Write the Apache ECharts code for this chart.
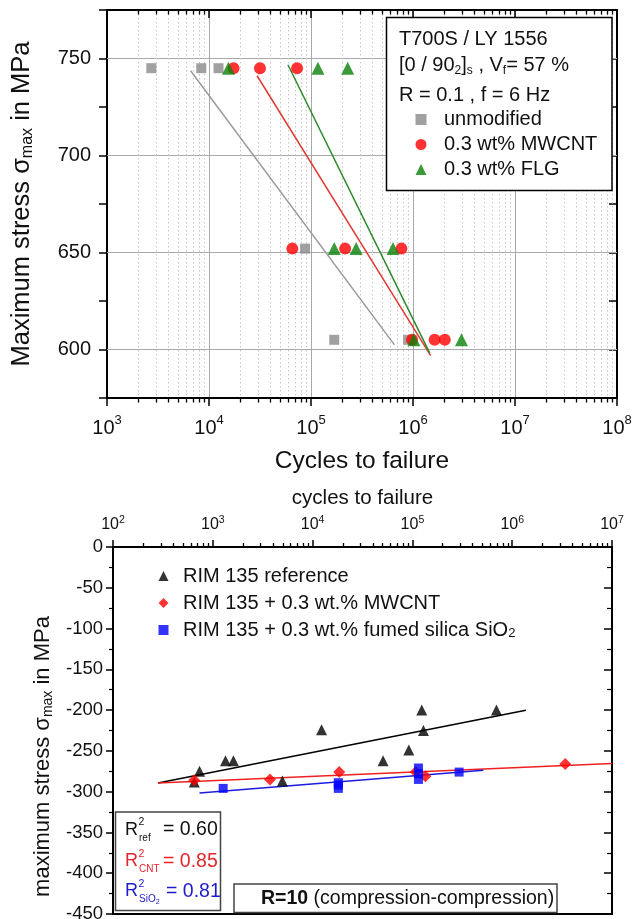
<!DOCTYPE html>
<html>
<head>
<meta charset="utf-8">
<script src="https://cdn.jsdelivr.net/npm/echarts@6/dist/echarts.min.js"></script>
<style>
  html, body { margin: 0; padding: 0; background: #fff; }
  #chart { width: 637px; height: 919px; }
</style>
</head>
<body>
<div id="chart"></div>
<script>
// ---------- Upper panel: T700S / LY 1556, R = 0.1, f = 6 Hz ----------
const upperDecades = [3, 4, 5, 6, 7, 8];          // 10^3 ... 10^8
const upperStressTicks = [600, 650, 700, 750];

const upperUnmodified = [[2.72e3, 745], [8.4e3, 745], [1.24e4, 745], [8.75e4, 652], [1.69e5, 605], [8.97e5, 605]];
const upperMwcnt = [[1.74e4, 745], [3.16e4, 745], [7.3e4, 745], [6.56e4, 652], [2.16e5, 652], [7.7e5, 652], [9.8e5, 605], [1.63e6, 605], [2.05e6, 605]];
const upperFlg = [[1.55e4, 745], [1.17e5, 745], [2.29e5, 745], [1.69e5, 652], [2.77e5, 652], [6.37e5, 652], [1.02e6, 605], [2.99e6, 605]];

const upperFitUnmodified = [[6.6e3, 743.7], [6.58e5, 602.4]];
const upperFitMwcnt = [[2.96e4, 741.1], [1.49e6, 596.8]];
const upperFitFlg = [[5.94e4, 746.8], [1.46e6, 598.1]];

// ---------- Lower panel: RIM 135, R = 10 ----------
const lowerDecades = [2, 3, 4, 5, 6, 7];          // 10^2 ... 10^7
const lowerReference = [[652, -288], [736, -275], [1340, -262], [1610, -262], [4980, -287], [1.23e4, -224], [5.08e4, -262], [9.2e4, -249], [1.24e5, -200], [1.29e5, -225], [6.95e5, -200]];
const lowerMwcnt = [[652, -286], [3740, -285], [1.85e4, -276], [1.08e5, -276], [1.35e5, -281], [3.4e6, -266]];
const lowerSilica = [[1270, -296], [1.81e4, -289], [1.81e4, -292], [1.81e4, -296], [1.15e5, -271], [1.15e5, -278], [1.15e5, -285], [2.94e5, -276]];

const lowerFitReference = [[282, -289.4], [1.37e6, -200.2]];
const lowerFitMwcnt = [[282, -289.4], [1e7, -265.6]];
const lowerFitSilica = [[736, -301.6], [5.14e5, -273.8]];

const r2Names = ['ref', 'CNT', 'SiO'];
const r2Values = ['0.60', '0.85', '0.81'];
const r2Colors = ['#111111', '#e3262b', '#1c1cc8'];

const FONT = '"Liberation Sans", Arial, Helvetica, sans-serif';
const INK = '#111';

const upperNames = ['unmodified', '0.3 wt% MWCNT', '0.3 wt% FLG'];
const lowerNames = ['RIM 135 reference', 'RIM 135 + 0.3 wt.% MWCNT', 'RIM 135 + 0.3 wt.% fumed silica SiO2'];

// minor decade positions (2..9 x 10^n) for dotted grid and short ticks
function minorValues(decades, y) {
  const out = [];
  for (let i = 0; i < decades.length - 1; i++) {
    for (let m = 2; m <= 9; m++) out.push([m * Math.pow(10, decades[i]), y]);
  }
  return out;
}

function powLabel(v) {
  return '{b|10}{sup|' + Math.round(Math.log10(v)) + '}';
}

const axisLineStyle = { color: '#000', width: 2 };
const tickStyle = { color: '#000', width: 1.5 };

const chart = echarts.init(document.getElementById('chart'), null, { renderer: 'canvas' });

const option = {
  animation: false,
  backgroundColor: '#fff',
  textStyle: { fontFamily: FONT },
  grid: [
    { left: 107, top: 10, width: 510, height: 388, outerBoundsMode: 'none', containLabel: false },
    { left: 113, top: 547, width: 499, height: 367, outerBoundsMode: 'none', containLabel: false }
  ],
  xAxis: [
    {
      type: 'log', logBase: 10, gridIndex: 0, position: 'bottom',
      min: Math.pow(10, upperDecades[0]), max: Math.pow(10, upperDecades[upperDecades.length - 1]),
      axisLine: { show: true, onZero: false, lineStyle: axisLineStyle },
      axisTick: { show: true, inside: false, length: 8, lineStyle: tickStyle },
      axisLabel: {
        margin: 16, formatter: powLabel,
        rich: {
          b: { fontSize: 20, lineHeight: 28, fontFamily: FONT, color: INK },
          sup: { fontSize: 13, lineHeight: 13, verticalAlign: 'top', fontFamily: FONT, color: INK }
        }
      },
      splitLine: { show: true, lineStyle: { color: '#a9a9a9', width: 1 } },
      name: 'Cycles to failure', nameLocation: 'middle', nameGap: 51,
      nameTextStyle: { fontSize: 24.5, lineHeight: 24, fontFamily: FONT, color: INK }
    },
    {
      type: 'log', logBase: 10, gridIndex: 0, position: 'top',
      min: Math.pow(10, upperDecades[0]), max: Math.pow(10, upperDecades[upperDecades.length - 1]),
      axisLine: { show: true, onZero: false, lineStyle: axisLineStyle },
      axisTick: { show: true, inside: true, length: 8, lineStyle: tickStyle },
      axisLabel: { show: false },
      splitLine: { show: false }
    },
    {
      type: 'log', logBase: 10, gridIndex: 1, position: 'top',
      min: Math.pow(10, lowerDecades[0]), max: Math.pow(10, lowerDecades[lowerDecades.length - 1]),
      axisLine: { show: true, onZero: false, lineStyle: axisLineStyle },
      axisTick: { show: true, inside: false, length: 7, lineStyle: tickStyle },
      axisLabel: {
        margin: 12, formatter: powLabel,
        rich: {
          b: { fontSize: 16, lineHeight: 20, fontFamily: FONT, color: INK },
          sup: { fontSize: 10.5, lineHeight: 11, verticalAlign: 'top', fontFamily: FONT, color: INK }
        }
      },
      splitLine: { show: false },
      name: 'cycles to failure', nameLocation: 'middle', nameGap: 38,
      nameTextStyle: { fontSize: 20.5, lineHeight: 21, fontFamily: FONT, color: INK }
    },
    {
      type: 'log', logBase: 10, gridIndex: 1, position: 'bottom',
      min: Math.pow(10, lowerDecades[0]), max: Math.pow(10, lowerDecades[lowerDecades.length - 1]),
      axisLine: { show: true, onZero: false, lineStyle: axisLineStyle },
      axisTick: { show: false }, axisLabel: { show: false }, splitLine: { show: false }
    }
  ],
  yAxis: [
    {
      type: 'value', gridIndex: 0, position: 'left', min: 575, max: 775, interval: 25,
      axisLine: { show: true, onZero: false, lineStyle: axisLineStyle },
      axisTick: { show: true, inside: false, length: 8, lineStyle: tickStyle },
      axisLabel: {
        margin: 16, fontSize: 20, fontFamily: FONT, color: INK,
        formatter: v => (upperStressTicks.indexOf(v) >= 0 ? String(v) : '')
      },
      splitLine: { show: false },
      name: 'Maximum stress \u03c3{sub|max} in MPa', nameLocation: 'middle', nameRotate: 90, nameGap: 71,
      nameTextStyle: {
        fontSize: 25.5, lineHeight: 28, fontFamily: FONT, color: INK,
        rich: { sub: { fontSize: 16, lineHeight: 16, verticalAlign: 'bottom', fontFamily: FONT, color: INK } }
      }
    },
    {
      type: 'value', gridIndex: 0, position: 'right', min: 575, max: 775, interval: 25,
      axisLine: { show: true, onZero: false, lineStyle: axisLineStyle },
      axisTick: { show: true, inside: true, length: 8, lineStyle: tickStyle },
      axisLabel: { show: false }, splitLine: { show: false }
    },
    {
      type: 'value', gridIndex: 1, position: 'left', min: -450, max: 0, interval: 50,
      axisLine: { show: true, onZero: false, lineStyle: axisLineStyle },
      axisTick: { show: true, inside: false, length: 7, lineStyle: tickStyle },
      minorTick: { show: true, splitNumber: 2, length: 4, lineStyle: { color: '#000', width: 1.2 } },
      axisLabel: { margin: 10, fontSize: 18.5, fontFamily: FONT, color: INK },
      splitLine: { show: false },
      name: 'maximum stress \u03c3{sub|max} in MPa', nameLocation: 'middle', nameRotate: 90, nameGap: 58,
      nameTextStyle: {
        fontSize: 22, lineHeight: 24, fontFamily: FONT, color: INK, padding: [0, 52, 0, 0],
        rich: { sub: { fontSize: 14, lineHeight: 14, verticalAlign: 'bottom', fontFamily: FONT, color: INK } }
      }
    },
    {
      type: 'value', gridIndex: 1, position: 'right', min: -450, max: 0, interval: 50,
      axisLine: { show: true, onZero: false, lineStyle: axisLineStyle },
      axisTick: { show: true, inside: true, length: 8, lineStyle: tickStyle },
      minorTick: { show: true, splitNumber: 2, length: 5, lineStyle: { color: '#000', width: 1.2 } },
      axisLabel: { show: false }, splitLine: { show: false }
    }
  ],
  legend: [
    {
      data: upperNames, orient: 'vertical', left: 415.5, top: 109.5, padding: 0,
      itemWidth: 11, itemHeight: 11, itemGap: 5, selectedMode: false,
      textStyle: { fontSize: 20, lineHeight: 20, fontFamily: FONT, color: INK, padding: [0, 0, 0, 12.5] }
    },
    {
      data: lowerNames, orient: 'vertical', left: 158.5, top: 566, padding: 0,
      itemWidth: 10, itemHeight: 10, itemGap: 7, selectedMode: false,
      formatter: name => (name === lowerNames[2] ? 'RIM 135 + 0.3 wt.% fumed silica SiO{sub|2}' : name),
      textStyle: {
        fontSize: 20, lineHeight: 20, fontFamily: FONT, color: INK, padding: [0, 0, 0, 9.5],
        rich: { sub: { fontSize: 13, lineHeight: 13, verticalAlign: 'bottom', fontFamily: FONT, color: INK } }
      }
    }
  ],
  series: [
    // dotted minor grid + minor ticks, upper panel
    {
      type: 'custom', name: 'upper minor', xAxisIndex: 0, yAxisIndex: 0, silent: true, clip: false, z: 1,
      encode: { x: 0, y: 1 },
      data: minorValues(upperDecades, 600),
      renderItem: (params, api) => {
        const cs = params.coordSys;
        const x = Math.round(api.coord([api.value(0), api.value(1)])[0]) + 0.5;
        const top = cs.y, bottom = cs.y + cs.height;
        return {
          type: 'group', children: [
            { type: 'line', shape: { x1: x, y1: top, x2: x, y2: bottom }, style: { stroke: '#c6c6c6', lineWidth: 1, lineDash: [1.5, 2.5] } },
            { type: 'line', shape: { x1: x, y1: bottom, x2: x, y2: bottom + 4.5 }, style: { stroke: '#000', lineWidth: 1.3 } },
            { type: 'line', shape: { x1: x, y1: top, x2: x, y2: top + 4.5 }, style: { stroke: '#000', lineWidth: 1.3 } }
          ]
        };
      }
    },
    // minor ticks on the cycles axis, lower panel
    {
      type: 'custom', name: 'lower minor', xAxisIndex: 2, yAxisIndex: 2, silent: true, clip: false, z: 1,
      encode: { x: 0, y: 1 },
      data: minorValues(lowerDecades, -100),
      renderItem: (params, api) => {
        const cs = params.coordSys;
        const x = Math.round(api.coord([api.value(0), api.value(1)])[0]) + 0.5;
        return {
          type: 'line', shape: { x1: x, y1: cs.y, x2: x, y2: cs.y - 4 }, style: { stroke: '#000', lineWidth: 1.3 }
        };
      }
    },
    // fit lines, upper panel (the first one also carries the stress grid)
    {
      type: 'line', name: 'fit unmodified', xAxisIndex: 0, yAxisIndex: 0, data: upperFitUnmodified,
      showSymbol: false, silent: true, z: 2, lineStyle: { color: '#9a9a9a', width: 1.5 },
      markLine: {
        silent: true, symbol: ['none', 'none'], label: { show: false }, z: 1,
        lineStyle: { color: '#a9a9a9', width: 1, type: 'solid' },
        data: upperStressTicks.map(v => ({ yAxis: v }))
      }
    },
    { type: 'line', name: 'fit MWCNT', xAxisIndex: 0, yAxisIndex: 0, data: upperFitMwcnt, showSymbol: false, silent: true, z: 2, lineStyle: { color: '#e03a33', width: 1.5 } },
    { type: 'line', name: 'fit FLG', xAxisIndex: 0, yAxisIndex: 0, data: upperFitFlg, showSymbol: false, silent: true, z: 2, lineStyle: { color: '#2c8a2c', width: 1.5 } },
    // measured points, upper panel
    { type: 'scatter', name: upperNames[0], xAxisIndex: 0, yAxisIndex: 0, data: upperUnmodified, symbol: 'rect', symbolSize: 10, z: 3, itemStyle: { color: '#8a8a8a' } },
    { type: 'scatter', name: upperNames[1], xAxisIndex: 0, yAxisIndex: 0, data: upperMwcnt, symbol: 'circle', symbolSize: 12, z: 3, itemStyle: { color: '#ff0000' } },
    { type: 'scatter', name: upperNames[2], xAxisIndex: 0, yAxisIndex: 0, data: upperFlg, symbol: 'triangle', symbolSize: 13, z: 3, itemStyle: { color: '#0a820a' } },
    // fit lines, lower panel
    { type: 'line', name: 'fit reference', xAxisIndex: 2, yAxisIndex: 2, data: lowerFitReference, showSymbol: false, silent: true, z: 2, lineStyle: { color: '#000', width: 1.5 } },
    { type: 'line', name: 'fit CNT', xAxisIndex: 2, yAxisIndex: 2, data: lowerFitMwcnt, showSymbol: false, silent: true, z: 2, lineStyle: { color: '#f02020', width: 1.5 } },
    { type: 'line', name: 'fit SiO2', xAxisIndex: 2, yAxisIndex: 2, data: lowerFitSilica, showSymbol: false, silent: true, z: 2, lineStyle: { color: '#1a1ae0', width: 1.5 } },
    // measured points, lower panel
    { type: 'scatter', name: lowerNames[0], xAxisIndex: 2, yAxisIndex: 2, data: lowerReference, symbol: 'triangle', symbolSize: 11, z: 3, itemStyle: { color: '#000' } },
    { type: 'scatter', name: lowerNames[1], xAxisIndex: 2, yAxisIndex: 2, data: lowerMwcnt, symbol: 'diamond', symbolSize: 12, z: 3, itemStyle: { color: '#ff0000' } },
    { type: 'scatter', name: lowerNames[2], xAxisIndex: 2, yAxisIndex: 2, data: lowerSilica, symbol: 'rect', symbolSize: 9, z: 3, itemStyle: { color: '#0000ff' } }
  ],
  graphic: []
};

// text blocks: specimen box (upper) and fit-quality / load-ratio boxes (lower)
const g = [];
function txt(x, y, text, size, color, extra) {
  return {
    type: 'text', z: 6, silent: true,
    style: Object.assign({
      text: text, x: x, y: y, fontSize: size, fontFamily: FONT, fill: color || INK,
      align: 'left', verticalAlign: 'middle'
    }, extra || {})
  };
}
g.push({ type: 'rect', z: 3, silent: true, shape: { x: 386.5, y: 17.5, width: 225.5, height: 173 }, style: { fill: '#fff', stroke: '#000', lineWidth: 1.5 } });
g.push(txt(399, 39.5, 'T700S / LY 1556', 20));
g.push(txt(399, 65, '[0 / 90{s|2}]{s|s} , V{s|f}= 57 %', 20, INK, {
  rich: { s: { fontSize: 12, lineHeight: 12, verticalAlign: 'bottom', fontFamily: FONT, fill: INK } }, lineHeight: 24
}));
g.push(txt(399, 95, 'R = 0.1 , f = 6 Hz', 20));

g.push({ type: 'rect', z: 5, silent: true, shape: { x: 115.5, y: 812, width: 105, height: 98.5 }, style: { fill: '#fff', stroke: '#444', lineWidth: 1.5 } });
const rowY = [830, 861.5, 891.5];
const valX = [163, 163, 166];
for (let i = 0; i < 3; i++) {
  const c = r2Colors[i];
  g.push(txt(125, rowY[i], 'R', 18, c));
  g.push(txt(138.5, rowY[i] - 7.5, '2', 10.5, c));
  g.push(txt(139, rowY[i] + 8, i === 2 ? 'SiO{s|2}' : r2Names[i], 10, c,
    i === 2 ? { rich: { s: { fontSize: 7, lineHeight: 7, verticalAlign: 'bottom', fontFamily: FONT, fill: c } }, lineHeight: 12 } : {}));
  g.push(txt(valX[i], rowY[i], '= ' + r2Values[i], 19.5, c));
}

g.push({ type: 'rect', z: 5, silent: true, shape: { x: 234, y: 884, width: 323, height: 28.5 }, style: { fill: '#fff', stroke: '#444', lineWidth: 1.5 } });
g.push(txt(261, 898.5, '{b|R=10} (compression-compression)', 19.5, INK, {
  rich: { b: { fontSize: 19.5, fontWeight: 'bold', fontFamily: FONT, fill: INK } }
}));

option.graphic = g;
chart.setOption(option);
</script>
</body>
</html>
